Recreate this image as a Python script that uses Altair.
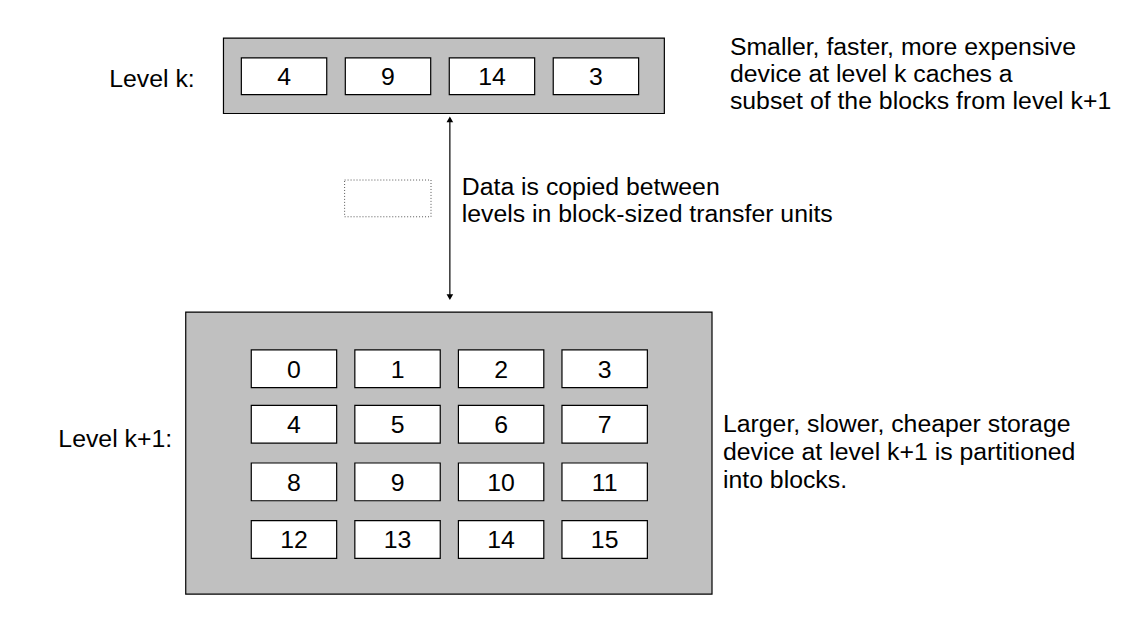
import altair as alt
import pandas as pd

# block numbers held at each level
level_k_blocks = [4, 9, 14, 3]
level_k1_blocks = [0, 1, 2, 3, 4, 5, 6, 7, 8, 9, 10, 11, 12, 13, 14, 15]
level_labels = ["Level k:", "Level k+1:"]
top_note = ["Smaller, faster, more expensive",
            "device at level k caches a",
            "subset of the blocks from level k+1"]
mid_note = ["Data is copied between",
            "levels in block-sized transfer units"]
bottom_note = ["Larger, slower, cheaper storage",
               "device at level k+1 is partitioned",
               "into blocks."]

FONT = "Liberation Sans"
X = alt.Scale(domain=[5, 1141])
Y = alt.Scale(domain=[9, 643], reverse=True)


def enc_rect(df, **mark):
    return alt.Chart(df).mark_rect(**mark).encode(
        x=alt.X("x0:Q", scale=X, axis=None), x2="x1:Q",
        y=alt.Y("y0:Q", scale=Y, axis=None), y2="y1:Q")


def enc_text(df, **mark):
    return alt.Chart(df).mark_text(font=FONT, fontSize=25, color="black", **mark).encode(
        x=alt.X("x:Q", scale=X, axis=None),
        y=alt.Y("y:Q", scale=Y, axis=None), text="t:N")


# containers
containers = pd.DataFrame({"x0": [222, 184], "x1": [666, 714],
                           "y0": [37, 313], "y1": [113, 597]})

# block cells: top row, then 4x4 grid
cells = []
for i, b in enumerate(level_k_blocks):
    x0 = 240 + i * 104.7
    cells.append({"x0": x0, "x1": x0 + 86, "y0": 57, "y1": 94, "t": str(b)})
row_y = [351, 407, 465, 523]
for i, b in enumerate(level_k1_blocks):
    r, c = divmod(i, 4)
    x0 = 250 + c * 104.3
    cells.append({"x0": x0, "x1": x0 + 86, "y0": row_y[r], "y1": row_y[r] + 38, "t": str(b)})
cells = pd.DataFrame(cells)
cells["x"] = (cells.x0 + cells.x1) / 2
cells["y"] = (cells.y0 + cells.y1) / 2 + 1

dotted = pd.DataFrame({"x0": [344], "x1": [431], "y0": [180], "y1": [217]})

labels = pd.DataFrame({"x": [150, 113], "y": [78, 441], "t": level_labels})
notes = pd.DataFrame(
    [{"x": 732, "y": 46 + 27 * i, "t": t} for i, t in enumerate(top_note)]
    + [{"x": 462, "y": 187 + 27 * i, "t": t} for i, t in enumerate(mid_note)]
    + [{"x": 725, "y": 426 + 28 * i, "t": t} for i, t in enumerate(bottom_note)])

arrow = pd.DataFrame({"x": [450], "y0": [118], "y1": [299]})
heads = pd.DataFrame({"x": [450, 450], "y": [119, 298],
                      "s": ["triangle-up", "triangle-down"]})

chart = alt.layer(
    enc_rect(containers, fill="#c0c0c0", stroke="black", strokeWidth=1.2),
    enc_rect(cells, fill="white", stroke="black", strokeWidth=1.2),
    enc_rect(dotted, fill="white", stroke="#555555", strokeWidth=1, strokeDash=[1, 2]),
    enc_text(cells, align="center", baseline="middle"),
    enc_text(labels, align="center", baseline="middle"),
    enc_text(notes, align="left", baseline="middle"),
    alt.Chart(arrow).mark_rule(color="black", strokeWidth=1.2).encode(
        x=alt.X("x:Q", scale=X, axis=None),
        y=alt.Y("y0:Q", scale=Y, axis=None), y2="y1:Q"),
    alt.Chart(heads).mark_point(filled=True, color="black", size=45, opacity=1).encode(
        x=alt.X("x:Q", scale=X, axis=None),
        y=alt.Y("y:Q", scale=Y, axis=None),
        shape=alt.Shape("s:N", scale=None)),
).properties(width=1136, height=634, padding=0,
             autosize=alt.AutoSizeParams(type="none")
).configure(background="white").configure_view(stroke=None, strokeWidth=0)

chart.save("out.html", embed_options={"renderer": "svg", "actions": False})
